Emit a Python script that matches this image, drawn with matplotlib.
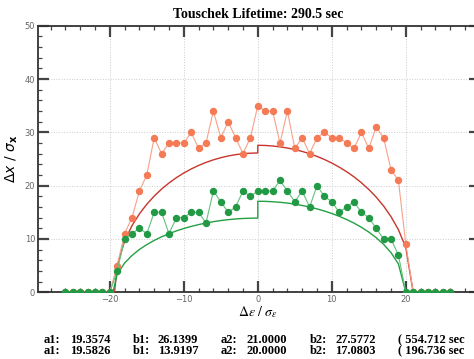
import matplotlib
matplotlib.use('Agg')
import matplotlib.pyplot as plt
from matplotlib.ticker import MultipleLocator, FixedLocator

# measured points, one per integer step
x_pts = list(range(-26, 27))
orange_pts = [0, 0, 0, 0, 0, 0, 0,
              5, 11, 14, 19, 22, 29, 26, 28, 28, 28, 30, 27, 28, 34, 29, 32, 29, 26, 29,
              35,
              34, 34, 28, 34, 27, 29, 26, 29, 30, 29, 29, 28, 27, 30, 27, 31, 29, 23, 21, 9,
              0, 0, 0, 0, 0, 0]
green_pts = [0, 0, 0, 0, 0, 0, 0,
             4, 10, 11, 12, 11, 15, 15, 11, 14, 14, 15, 15, 13, 19, 17, 15, 16, 19, 18,
             19,
             19, 19, 21, 19, 17, 19, 16, 20, 18, 17, 15, 16, 17, 15, 14, 12, 10, 10, 7, 0,
             0, 0, 0, 0, 0, 0]

# fitted curves (left half ends at 0, right half starts at 0 -> step at 0)
red_x = [-19.36] + list(range(-19, 1)) + list(range(0, 21)) + [21.0]
red_y = [0, 5.00, 9.62, 12.50, 14.71, 16.52, 18.05, 19.37, 20.51, 21.51, 22.38,
         23.14, 23.80, 24.37, 24.85, 25.25, 25.58, 25.82, 26.00, 26.10, 26.14,
         27.58, 27.55, 27.45, 27.29, 27.07, 26.78, 26.43, 26.00, 25.50, 24.92,
         24.25, 23.49, 22.63, 21.66, 20.55, 19.30, 17.86, 16.19, 14.20, 11.75, 8.41,
         0]
grn_x = [-19.58] + list(range(-19, 1)) + list(range(0, 20)) + [20.0]
grn_y = [0, 3.37, 5.48, 6.91, 8.03, 8.95, 9.73, 10.41, 11.00, 11.52, 11.97,
         12.36, 12.70, 13.00, 13.25, 13.46, 13.63, 13.76, 13.85, 13.90, 13.92,
         17.08, 17.06, 16.99, 16.89, 16.74, 16.54, 16.29, 16.00, 15.65, 15.25,
         14.79, 14.26, 13.66, 12.98, 12.20, 11.30, 10.25, 9.00, 7.45, 5.33,
         0]

fit_names = ['a1:', 'b1:', 'a2:', 'b2:']
fit_orange = ['19.3574', '26.1399', '21.0000', '27.5772']
fit_green = ['19.5826', '13.9197', '20.0000', '17.0803']
life_orange = '( 554.712 sec'
life_green = '( 196.736 sec'
title = 'Touschek Lifetime: 290.5 sec'

W, H = 474, 359
fig = plt.figure(figsize=(W / 100, H / 100), dpi=100)
ax = fig.add_axes([38 / W, (H - 292.3) / H, 441.8 / W, 266.5 / H])

ax.plot(red_x, red_y, color='#c8352c', lw=1.0, zorder=3)
ax.plot(grn_x, grn_y, color='#23a044', lw=1.0, zorder=3)
ax.plot(x_pts, orange_pts, color='#f7a188', lw=0.8, marker='o', ms=4.3,
        mfc='#f47b55', mec='#f47b55', zorder=4)
ax.plot(x_pts, green_pts, color='#63c27e', lw=0.8, marker='o', ms=4.3,
        mfc='#229a45', mec='#229a45', zorder=5)

ax.set_xlim(-29.7, 30)
ax.set_ylim(0, 50)
ax.xaxis.set_major_locator(FixedLocator([-20, -10, 0, 10, 20]))
ax.xaxis.set_minor_locator(MultipleLocator(2))
ax.yaxis.set_major_locator(MultipleLocator(10))
ax.yaxis.set_minor_locator(MultipleLocator(2))
ax.grid(True, which='major', color='#cccccc', ls=':', lw=0.7)
ax.tick_params(which='major', direction='in', length=8, width=1.6, color='#444444',
               top=True, right=True, labelsize=6, labelcolor='#666666', pad=2)
ax.tick_params(which='minor', direction='in', length=3, width=0.9, color='#444444',
               top=True, right=True)
for s in ax.spines.values():
    s.set_color('#333333')
    s.set_linewidth(1.3)

plt.rcParams['mathtext.fontset'] = 'stix'
ax.set_ylabel(r'$\Delta x\ /\ \sigma_{\mathbf{x}}$', fontsize=10)
ax.yaxis.set_label_coords(-18 / 441.8, 0.5)
fig.text(258 / W, 1 - 312 / H, r'$\Delta\varepsilon\ /\ \sigma_{\varepsilon}$',
         ha='center', va='center', fontsize=10)

fig.text(258 / W, 1 - 15 / H, title, ha='center', va='center',
         family='Liberation Serif', fontweight='bold', fontsize=10)

name_x = [44, 133, 221, 310]
val_x = [70, 158, 247, 335]
for row_y, vals, life in [(340, fit_orange, life_orange), (351, fit_green, life_green)]:
    for nx, vx, n, v in zip(name_x, val_x, fit_names, vals):
        fig.text(nx / W, 1 - row_y / H, n, ha='left', va='center',
                 family='Liberation Serif', fontweight='bold', fontsize=9)
        fig.text(vx / W, 1 - row_y / H, v, ha='left', va='center',
                 family='Liberation Serif', fontweight='bold', fontsize=9)
    fig.text(398 / W, 1 - row_y / H, life, ha='left', va='center',
             family='Liberation Serif', fontweight='bold', fontsize=9)

fig.savefig('out.png', dpi=100)
